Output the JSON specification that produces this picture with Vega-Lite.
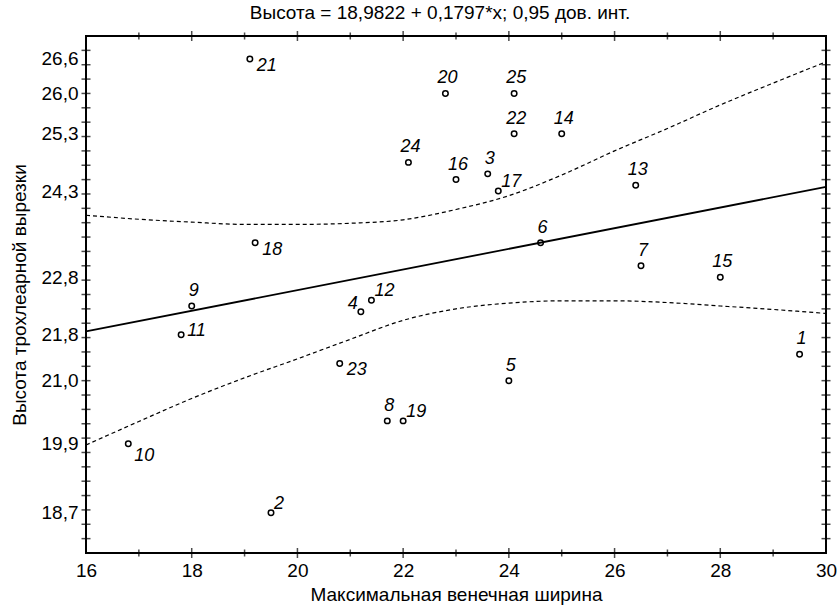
{
  "$schema": "https://vega.github.io/schema/vega-lite/v6.json",
  "width": 740,
  "height": 517,
  "autosize": "none",
  "padding": {"left": 86, "top": 36, "right": 11, "bottom": 53},
  "background": "white",
  "title": {"text": "Высота = 18,9822 + 0,1797*x; 0,95 дов. инт.", "font": "Liberation Sans", "fontSize": 19, "fontWeight": "normal", "color": "#000", "offset": 8, "dx": -16},
  "config": {
    "font": "Liberation Sans",
    "view": {"stroke": "#000", "strokeWidth": 2},
    "axis": {"domain": false, "grid": false, "labelFont": "Liberation Sans", "labelFontSize": 19, "labelColor": "#000", "titleFont": "Liberation Sans", "titleFontSize": 19, "titleFontWeight": "normal", "titleColor": "#000", "labelOverlap": false, "labelBound": false, "labelFlush": false}
  },
  "datasets": {
    "pts": [
      {"n": 1, "x": 29.5, "y": 21.46},
      {"n": 2, "x": 19.5, "y": 18.7},
      {"n": 3, "x": 23.6, "y": 24.6},
      {"n": 4, "x": 21.2, "y": 22.2},
      {"n": 5, "x": 24.0, "y": 21.0},
      {"n": 6, "x": 24.6, "y": 23.4},
      {"n": 7, "x": 26.5, "y": 23.0},
      {"n": 8, "x": 21.7, "y": 20.3},
      {"n": 9, "x": 18.0, "y": 22.3},
      {"n": 10, "x": 16.8, "y": 19.9},
      {"n": 11, "x": 17.8, "y": 21.8},
      {"n": 12, "x": 21.4, "y": 22.4},
      {"n": 13, "x": 26.4, "y": 24.4},
      {"n": 14, "x": 25.0, "y": 25.3},
      {"n": 15, "x": 28.0, "y": 22.8},
      {"n": 16, "x": 23.0, "y": 24.5},
      {"n": 17, "x": 23.8, "y": 24.3},
      {"n": 18, "x": 19.2, "y": 23.4},
      {"n": 19, "x": 22.0, "y": 20.3},
      {"n": 20, "x": 22.8, "y": 26.0},
      {"n": 21, "x": 19.1, "y": 26.6},
      {"n": 22, "x": 24.1, "y": 25.3},
      {"n": 23, "x": 20.8, "y": 21.3},
      {"n": 24, "x": 22.1, "y": 24.8},
      {"n": 25, "x": 24.1, "y": 26.0}
    ],
    "fit": [
      {"x": 16, "y": 21.857},
      {"x": 30, "y": 24.373}
    ],
    "upper": [
      {"x": 16, "y": 23.88},
      {"x": 17, "y": 23.81},
      {"x": 18, "y": 23.76},
      {"x": 19, "y": 23.72},
      {"x": 20, "y": 23.72},
      {"x": 21, "y": 23.74},
      {"x": 22, "y": 23.8},
      {"x": 23, "y": 23.98},
      {"x": 24, "y": 24.22},
      {"x": 25, "y": 24.58},
      {"x": 26, "y": 25.0},
      {"x": 27, "y": 25.39},
      {"x": 28, "y": 25.8},
      {"x": 29, "y": 26.18},
      {"x": 30, "y": 26.55}
    ],
    "lower": [
      {"x": 16, "y": 19.88},
      {"x": 17, "y": 20.29},
      {"x": 18, "y": 20.69},
      {"x": 19, "y": 21.05},
      {"x": 20, "y": 21.38},
      {"x": 21, "y": 21.72},
      {"x": 22, "y": 22.05},
      {"x": 23, "y": 22.25},
      {"x": 24, "y": 22.35},
      {"x": 25, "y": 22.39},
      {"x": 26, "y": 22.39},
      {"x": 27, "y": 22.36},
      {"x": 28, "y": 22.3},
      {"x": 29, "y": 22.24},
      {"x": 30, "y": 22.17}
    ],
    "xt": [
      {"v": 17}, {"v": 18}, {"v": 19}, {"v": 20}, {"v": 21}, {"v": 22}, {"v": 23},
      {"v": 24}, {"v": 25}, {"v": 26}, {"v": 27}, {"v": 28}, {"v": 29}
    ],
    "yt": [
      {"v": 18.25}, {"v": 18.5}, {"v": 18.75}, {"v": 19}, {"v": 19.25}, {"v": 19.5}, {"v": 19.75},
      {"v": 20}, {"v": 20.25}, {"v": 20.5}, {"v": 20.75}, {"v": 21}, {"v": 21.25}, {"v": 21.5},
      {"v": 21.75}, {"v": 22}, {"v": 22.25}, {"v": 22.5}, {"v": 22.75}, {"v": 23}, {"v": 23.25},
      {"v": 23.5}, {"v": 23.75}, {"v": 24}, {"v": 24.25}, {"v": 24.5}, {"v": 24.75}, {"v": 25},
      {"v": 25.25}, {"v": 25.5}, {"v": 25.75}, {"v": 26}, {"v": 26.25}, {"v": 26.5}, {"v": 26.75}
    ]
  },
  "resolve": {"axis": {"x": "independent", "y": "independent"}},
  "layer": [
    {
      "data": {"name": "pts"},
      "mark": {"type": "point", "shape": "circle", "filled": false, "stroke": "#000", "strokeWidth": 1.5, "size": 30, "opacity": 1},
      "encoding": {
        "x": {"field": "x", "type": "quantitative", "scale": {"domain": [16, 30], "nice": false, "zero": false},
          "axis": {"orient": "bottom", "values": [16, 18, 20, 22, 24, 26, 28, 30], "ticks": false, "labelPadding": 8, "title": "Максимальная венечная ширина", "titlePadding": 5}},
        "y": {"field": "y", "type": "quantitative", "scale": {"domain": [18, 27], "nice": false, "zero": false},
          "axis": {"orient": "left", "values": [18.7, 19.9, 21.0, 21.8, 22.8, 24.3, 25.3, 26.0, 26.6], "ticks": false, "labelPadding": 8, "labelExpr": "replace(format(datum.value, '.1f'), '.', ',')", "title": "Высота трохлеарной вырезки", "titlePadding": 12}}
      }
    },
    {
      "data": {"name": "fit"},
      "mark": {"type": "line", "color": "#000", "strokeWidth": 1.8},
      "encoding": {
        "x": {"field": "x", "type": "quantitative", "axis": null},
        "y": {"field": "y", "type": "quantitative", "axis": null}
      }
    },
    {
      "data": {"name": "upper"},
      "mark": {"type": "line", "color": "#000", "strokeWidth": 1.2, "strokeDash": [4, 3], "interpolate": "monotone"},
      "encoding": {
        "x": {"field": "x", "type": "quantitative", "axis": null},
        "y": {"field": "y", "type": "quantitative", "axis": null}
      }
    },
    {
      "data": {"name": "lower"},
      "mark": {"type": "line", "color": "#000", "strokeWidth": 1.2, "strokeDash": [4, 3], "interpolate": "monotone"},
      "encoding": {
        "x": {"field": "x", "type": "quantitative", "axis": null},
        "y": {"field": "y", "type": "quantitative", "axis": null}
      }
    },
    {
      "data": {"name": "pts"},
      "transform": [{"filter": {"field": "n", "oneOf": [1, 3, 5, 6, 7, 8, 9, 13, 14, 15, 16, 20, 22, 24, 25]}}],
      "mark": {"type": "text", "font": "Liberation Sans", "fontStyle": "italic", "fontSize": 18, "align": "center", "baseline": "alphabetic", "dx": 2, "dy": -10, "color": "#000"},
      "encoding": {
        "x": {"field": "x", "type": "quantitative", "axis": null},
        "y": {"field": "y", "type": "quantitative", "axis": null},
        "text": {"field": "n", "type": "nominal"}
      }
    },
    {
      "data": {"name": "pts"},
      "transform": [{"filter": {"field": "n", "oneOf": [21, 18, 23]}}],
      "mark": {"type": "text", "font": "Liberation Sans", "fontStyle": "italic", "fontSize": 18, "align": "left", "baseline": "alphabetic", "dx": 7, "dy": 12, "color": "#000"},
      "encoding": {
        "x": {"field": "x", "type": "quantitative", "axis": null},
        "y": {"field": "y", "type": "quantitative", "axis": null},
        "text": {"field": "n", "type": "nominal"}
      }
    },
    {
      "data": {"name": "pts"},
      "transform": [{"filter": {"field": "n", "oneOf": [10]}}],
      "mark": {"type": "text", "font": "Liberation Sans", "fontStyle": "italic", "fontSize": 18, "align": "left", "baseline": "alphabetic", "dx": 6, "dy": 17, "color": "#000"},
      "encoding": {
        "x": {"field": "x", "type": "quantitative", "axis": null},
        "y": {"field": "y", "type": "quantitative", "axis": null},
        "text": {"field": "n", "type": "nominal"}
      }
    },
    {
      "data": {"name": "pts"},
      "transform": [{"filter": {"field": "n", "oneOf": [11]}}],
      "mark": {"type": "text", "font": "Liberation Sans", "fontStyle": "italic", "fontSize": 18, "align": "left", "baseline": "alphabetic", "dx": 6, "dy": 1, "color": "#000"},
      "encoding": {
        "x": {"field": "x", "type": "quantitative", "axis": null},
        "y": {"field": "y", "type": "quantitative", "axis": null},
        "text": {"field": "n", "type": "nominal"}
      }
    },
    {
      "data": {"name": "pts"},
      "transform": [{"filter": {"field": "n", "oneOf": [17, 12, 2, 19]}}],
      "mark": {"type": "text", "font": "Liberation Sans", "fontStyle": "italic", "fontSize": 18, "align": "left", "baseline": "alphabetic", "dx": 3, "dy": -4, "color": "#000"},
      "encoding": {
        "x": {"field": "x", "type": "quantitative", "axis": null},
        "y": {"field": "y", "type": "quantitative", "axis": null},
        "text": {"field": "n", "type": "nominal"}
      }
    },
    {
      "data": {"name": "pts"},
      "transform": [{"filter": {"field": "n", "oneOf": [4]}}],
      "mark": {"type": "text", "font": "Liberation Sans", "fontStyle": "italic", "fontSize": 18, "align": "right", "baseline": "alphabetic", "dx": -3, "dy": -3, "color": "#000"},
      "encoding": {
        "x": {"field": "x", "type": "quantitative", "axis": null},
        "y": {"field": "y", "type": "quantitative", "axis": null},
        "text": {"field": "n", "type": "nominal"}
      }
    },
    {
      "data": {"name": "xt"},
      "mark": {"type": "tick", "orient": "vertical", "color": "#000", "thickness": 1.5},
      "encoding": {
        "x": {"field": "v", "type": "quantitative", "axis": null},
        "y": {"datum": 18, "type": "quantitative", "axis": null},
        "size": {"condition": {"test": "datum.v % 2 == 0", "value": 10}, "value": 7}
      }
    },
    {
      "data": {"name": "xt"},
      "mark": {"type": "tick", "orient": "vertical", "color": "#000", "thickness": 1.5},
      "encoding": {
        "x": {"field": "v", "type": "quantitative", "axis": null},
        "y": {"datum": 27, "type": "quantitative", "axis": null},
        "size": {"condition": {"test": "datum.v % 2 == 0", "value": 10}, "value": 7}
      }
    },
    {
      "data": {"name": "yt"},
      "mark": {"type": "tick", "orient": "horizontal", "color": "#000", "thickness": 1.5, "size": 9},
      "encoding": {
        "x": {"datum": 16, "type": "quantitative", "axis": null},
        "y": {"field": "v", "type": "quantitative", "axis": null}
      }
    },
    {
      "data": {"name": "yt"},
      "mark": {"type": "tick", "orient": "horizontal", "color": "#000", "thickness": 1.5, "size": 9},
      "encoding": {
        "x": {"datum": 30, "type": "quantitative", "axis": null},
        "y": {"field": "v", "type": "quantitative", "axis": null}
      }
    }
  ]
}
